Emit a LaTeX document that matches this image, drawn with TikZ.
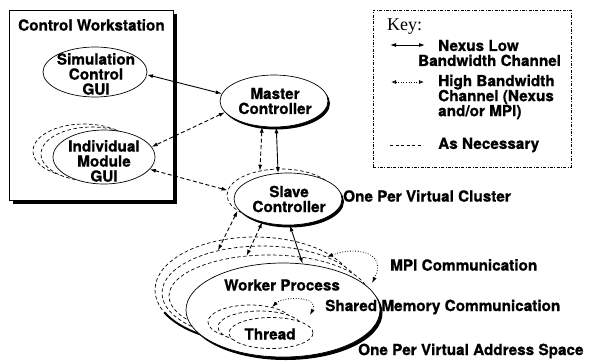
\documentclass[tikz,border=0pt]{standalone}
\usepackage{fontspec}
\setmainfont{TeX Gyre Heros}[BoldFeatures={FakeBold=0.8}]
\newfontfamily\keyfont{Liberation Serif}
\usetikzlibrary{shapes.geometric,arrows.meta,shadows}
\begin{document}
\begin{tikzpicture}[x=1pt,y=-1pt,
  >={Latex[length=6pt,width=4pt]},
  lbl/.style={font=\fontsize{15.3}{15}\selectfont\bfseries, align=center, inner sep=0pt},
  lbll/.style={font=\fontsize{15.3}{15}\selectfont\bfseries, align=left, inner sep=0pt, anchor=west},
  ell/.style={ellipse, draw, fill=white, line width=0.7pt, inner sep=0pt},
  ghost/.style={ell, dash pattern=on 3.5pt off 2.5pt},
  shad/.style={drop shadow={shadow xshift=2pt, shadow yshift=-2.5pt, opacity=1, fill=black}},
  dsh/.style={line width=0.9pt, dash pattern=on 4pt off 2.5pt},
  sol/.style={line width=0.9pt},
  dot/.style={line width=0.8pt, dash pattern=on 0.8pt off 1.8pt}
]
\useasboundingbox (0,0) rectangle (591,360);

% control workstation
\node[draw, fill=white, line width=0.8pt, minimum width=164pt, minimum height=190pt, inner sep=0pt,
      drop shadow={shadow xshift=3.5pt, shadow yshift=-3.5pt, opacity=1, fill=black}] (ws) at (91,105) {};

% individual module GUI with ghosts
\node[ghost, minimum width=102pt, minimum height=54pt] (ig2) at (84,151) {};
\node[ghost, minimum width=102pt, minimum height=54pt] (ig1) at (92,154) {};
\node[ell, minimum width=102pt, minimum height=54pt] (indiv) at (104,157) {};
\node[ell, minimum width=104pt, minimum height=50pt] (sim) at (95,72) {};

% slave and master
\node[ghost, minimum width=108pt, minimum height=52pt] (sg) at (281,195) {};
\node[ell, shad, minimum width=108pt, minimum height=52pt] (slave) at (288,199) {};
\node[ell, shad, minimum width=108pt, minimum height=52pt] (master) at (274,101) {};

% worker processes
\node[ghost, minimum width=200pt, minimum height=106pt] (g3) at (255,290) {};
\node[ghost, minimum width=200pt, minimum height=94pt] (g2) at (262,293) {};
\node[ghost, minimum width=200pt, minimum height=82pt] (g1) at (269,296) {};
\draw[line width=2pt] ([shift={(155:100 and 53)}]g3.center) arc[start angle=155, end angle=122, x radius=100, y radius=53];
\node[ell, drop shadow={shadow xshift=2.5pt, shadow yshift=-3pt, opacity=1, fill=black}, minimum width=194pt, minimum height=94pt] (worker) at (283,310) {};

% threads
\node[ghost, minimum width=84pt, minimum height=34pt] (tg2) at (250,322) {};
\node[ghost, minimum width=84pt, minimum height=32pt] (tg1) at (260,327) {};
\node[ghost, minimum width=84pt, minimum height=31pt] (thread) at (271,333) {};

% connectors
\draw[sol,<->] (sim.-3) -- (master.172);
\draw[dsh,<->] (master.193) -- (indiv.12);
\draw[dsh,<->] (indiv.-15) -- (sg.175);
\draw[dsh,<->] (master.-115) -- (sg.131);
\draw[sol,<->] (master.-85) -- (slave.111);
\draw[dsh,<->] (sg.200) -- (g2.136);
\draw[dsh,<->] (slave.-138) -- (g1.119);
\draw[sol,<->] (slave.-86) -- (worker.67.5);
\coordinate (mpiend) at (372,283);
\draw[dot,<->] (g2.29) .. controls (355,246) and (388,252) .. (mpiend);
\coordinate (smend) at (310,315);
\draw[dot,<->] (tg2.34) .. controls (283,296) and (320,296) .. (smend);

% labels
\node[lbll] at (18,25) {Control Workstation};
\node[lbl] at (96,74) {Simulation\\Control\\GUI};
\node[lbl] at (104,161) {Individual\\Module\\GUI};
\node[lbl] at (275,101) {Master\\Controller};
\node[lbl] at (289,199) {Slave\\Controller};
\node[lbl] at (282,285) {Worker Process};
\node[lbl] at (270,334) {Thread};
\node[lbll] at (343,196) {One Per Virtual Cluster};
\node[lbll] at (390,265) {MPI Communication};
\node[lbll] at (325,307) {Shared Memory Communication};
\node[lbll] at (358,351) {One Per Virtual Address Space};

% key
\node[draw, line width=0.5pt, dash pattern=on 3pt off 1.5pt on 0.8pt off 1.5pt, minimum width=198pt, minimum height=157pt, inner sep=0pt] (key) at (472,88.5) {};
\node[anchor=base west, font=\keyfont\fontsize{18}{18}\selectfont, inner sep=0pt] (keyt) at (387,30) {Key:};
\coordinate (k1a) at (390,45); \coordinate (k1b) at (425,45);
\draw[sol,<->] (k1a) -- (k1b);
\node[lbll] (k1t) at (418,53) {\hspace*{20pt}Nexus Low\\Bandwidth Channel};
\coordinate (k2a) at (391,82); \coordinate (k2b) at (424,82);
\draw[dot,{Latex[open,length=5pt,width=4pt]}-{Latex[open,length=5pt,width=4pt]}] (k2a) -- (k2b);
\node[lbll] (k2t) at (438,97) {High Bandwidth\\Channel (Nexus\\and/or MPI)};
\coordinate (k3a) at (390,145); \coordinate (k3b) at (423,145);
\draw[line width=0.6pt, dash pattern=on 3pt off 2.5pt] (k3a) -- (k3b);
\node[lbll] (k3t) at (438,145) {As Necessary};
\end{tikzpicture}
\end{document}
